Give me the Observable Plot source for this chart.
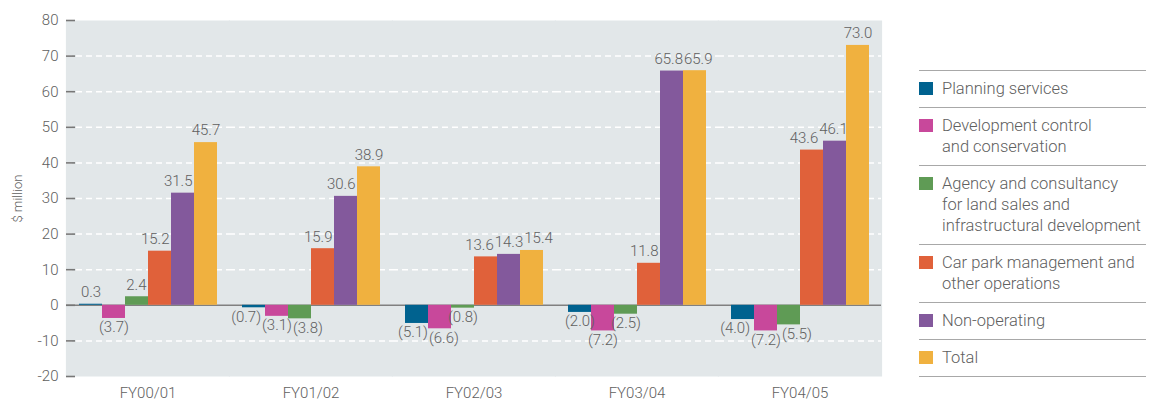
<!DOCTYPE html>
<html>
<head>
<meta charset="utf-8">
<script src="https://cdn.jsdelivr.net/npm/d3@7"></script>
<script src="https://cdn.jsdelivr.net/npm/@observablehq/plot@0.6"></script>
<style>
  body { margin: 0; background: #fff; }
  #wrap { position: relative; width: 1149px; height: 406px; font-family: Roboto, sans-serif; font-weight: 300; }
  #legend { position: absolute; left: 919px; top: 70px; width: 227px; border-top: 1.6px solid #a8a8a8; }
  .row { display: flex; align-items: flex-start; border-bottom: 1.6px solid #a8a8a8; padding: 7px 0 8px 0; }
  .sw { width: 14px; height: 13px; flex: none; margin-top: 4px; }
  .lab { margin-left: 9px; font-size: 16.5px; line-height: 21px; color: #606060; white-space: pre; }
</style>
</head>
<body>
<div id="wrap">
  <div id="chart"></div>
  <div id="legend"></div>
</div>
<script>
const years = ["FY00/01", "FY01/02", "FY02/03", "FY03/04", "FY04/05"];
const series = [
  "Planning services",
  "Development control and conservation",
  "Agency and consultancy for land sales and infrastructural development",
  "Car park management and other operations",
  "Non-operating",
  "Total"
];
const legendLines = [
  "Planning services",
  "Development control\nand conservation",
  "Agency and consultancy\nfor land sales and\ninfrastructural development",
  "Car park management and\nother operations",
  "Non-operating",
  "Total"
];
const planning     = [0.3, -0.7, -5.1, -2.0, -4.0];
const devControl   = [-3.7, -3.1, -6.6, -7.2, -7.2];
const agency       = [2.4, -3.8, -0.8, -2.5, -5.5];
const carPark      = [15.2, 15.9, 13.6, 11.8, 43.6];
const nonOperating = [31.5, 30.6, 14.3, 65.8, 46.1];
const total        = [45.7, 38.9, 15.4, 65.9, 73.0];
const yTicks = [-20, -10, 0, 10, 20, 30, 40, 50, 60, 70, 80];
const gridTicks = [-10, 10, 20, 30, 40, 50, 60, 70];
const colors = ["#00628f", "#c8489b", "#5f9b55", "#e0613a", "#83599c", "#f0b13f"];

const seriesValues = [planning, devControl, agency, carPark, nonOperating, total];
const data = [];
years.forEach((year, i) => {
  series.forEach((s, j) => {
    data.push({year, series: s, value: seriesValues[j][i], j});
  });
});
const fmt = v => v < 0 ? `(${Math.abs(v).toFixed(1)})` : v.toFixed(1);
const textColor = "#606060";

// layout constants
const W = 900, H = 406, mL = 66, mR = 19, mT = 20, mB = 30;
const yMin = -20, yMax = 80;
const outerPad = 0.54;
const pxPerUnit = (H - mT - mB) / (yMax - yMin);
const step = (W - mL - mR) / years.length / (series.length + 2 * outerPad);

// label placement: keep labels off taller neighbouring bars, then nudge colliding neighbours apart
const ctx = document.createElement("canvas").getContext("2d");
ctx.font = "300 15px Roboto";
const labels = data.map(d => {
  const pos = d.value >= 0;
  const dy = pos ? -12 : 9;
  return {...d, label: fmt(d.value), dy, dx: 0,
    cx: d.j * step, cy: -d.value * pxPerUnit + dy, w: ctx.measureText(fmt(d.value)).width, pos};
});
for (const year of years) {
  const group = labels.filter(l => l.year === year).sort((a, b) => a.j - b.j);
  group.forEach((l, k) => {
    if (!l.pos) return;
    const over = l.w / 2 - step / 2 + 2;
    const right = group[k + 1], left = group[k - 1];
    if (right && right.value > 0 && -right.value * pxPerUnit < l.cy + 6) l.dx = -over;
    else if (left && left.value > 0 && -left.value * pxPerUnit < l.cy + 6) l.dx = over;
  });
  for (const side of [true, false]) {
    const list = group.filter(l => l.pos === side);
    for (let it = 0; it < 20; it++) {
      for (let k = 0; k < list.length - 1; k++) {
        const a = list[k], b = list[k + 1];
        if (b.j - a.j !== 1) continue;
        if (Math.abs(a.cy - b.cy) >= 12) continue;
        const gap = (b.cx + b.dx - b.w / 2) - (a.cx + a.dx + a.w / 2);
        if (gap < 1) {
          const o = (1 - gap) / 2;
          a.dx -= o; b.dx += o;
        }
      }
    }
  }
}

const chart = Plot.plot({
  width: W,
  height: H,
  marginLeft: mL,
  marginRight: mR,
  marginTop: mT,
  marginBottom: mB,
  style: {fontFamily: "Roboto, sans-serif", fontWeight: 300, fontSize: "15px", color: textColor, background: "transparent"},
  fx: {domain: years, padding: 0, label: null},
  x: {domain: series, paddingInner: 0, paddingOuter: outerPad, axis: null},
  y: {domain: [yMin, yMax], label: null},
  color: {domain: series, range: colors},
  marks: [
    Plot.frame({fill: "#e2e7e9", stroke: "none", insetLeft: -0.6, insetRight: -0.6}),
    Plot.ruleY(gridTicks, {stroke: "#ffffff", strokeWidth: 1.5, strokeDasharray: "6,4"}),
    Plot.ruleY([0], {stroke: "#808080", strokeWidth: 1.5}),
    Plot.barY(data, {fx: "year", x: "series", y: "value", fill: "series"}),
    ...labels.map(l => Plot.text([l], {fx: "year", x: "series", y: "value", text: "label", dx: l.dx, dy: l.dy, lineAnchor: "middle", fill: textColor, fontSize: 15})),
    Plot.axisY({ticks: yTicks, tickSize: 9, dx: 9, fill: "none", stroke: "#777", strokeWidth: 1.6}),
    Plot.axisY({ticks: yTicks, tickSize: 0, tickPadding: 8, tickFormat: d => String(d), label: null, fill: textColor, fontSize: 15}),
    Plot.axisY({ticks: yTicks, tickSize: 0, tickFormat: () => "", label: "$ million", labelArrow: "none", labelAnchor: "center", labelOffset: 54, fill: textColor, fontSize: 13}),
    Plot.axisFx({anchor: "bottom", tickSize: 0, tickPadding: 11, label: null, fill: textColor, fontSize: 15})
  ]
});
document.getElementById("chart").appendChild(chart);

const legend = document.getElementById("legend");
legendLines.forEach((txt, i) => {
  const row = document.createElement("div");
  row.className = "row";
  const sw = document.createElement("div");
  sw.className = "sw";
  sw.style.background = colors[i];
  const lab = document.createElement("div");
  lab.className = "lab";
  lab.textContent = txt;
  row.appendChild(sw);
  row.appendChild(lab);
  legend.appendChild(row);
});
</script>
</body>
</html>
